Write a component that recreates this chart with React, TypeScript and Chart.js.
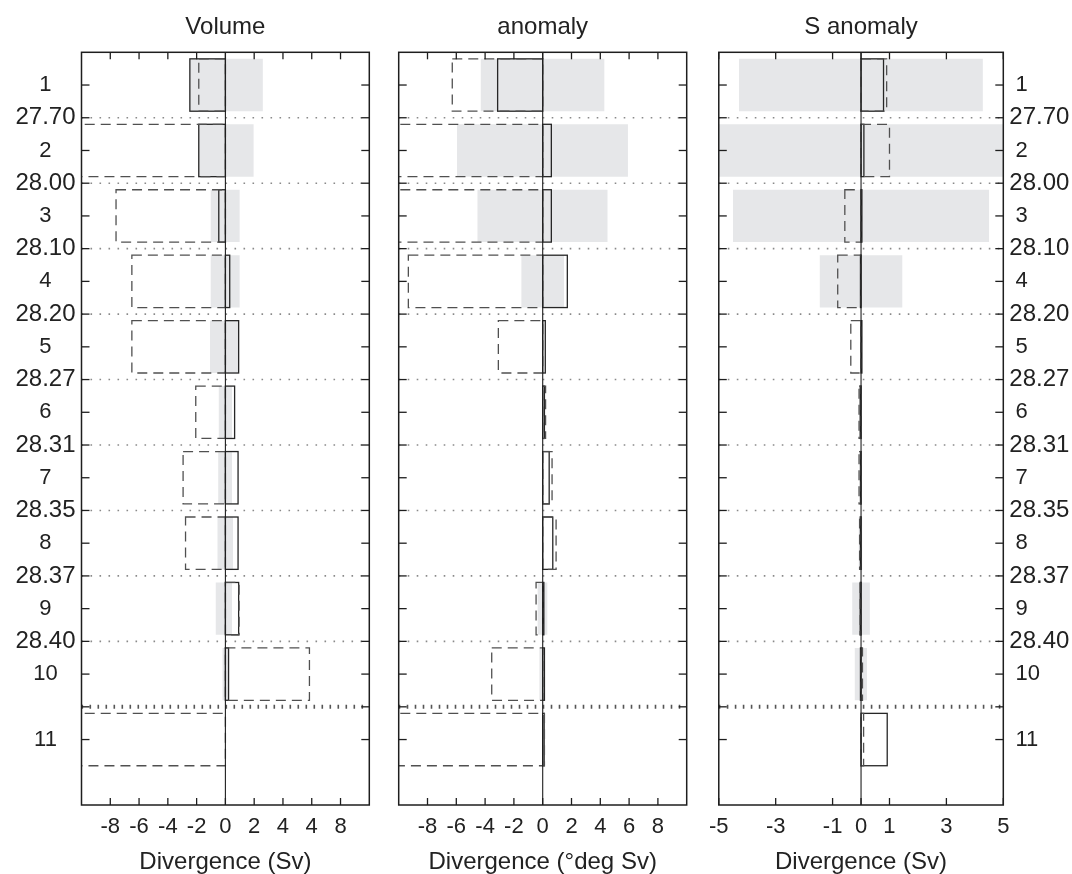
import React, { useEffect, useRef } from 'react';
import { Chart, registerables } from 'chart.js';

Chart.register(...registerables);

const FONT = "'Liberation Sans', Arial, Helvetica, sans-serif";
Chart.defaults.font.family = FONT;
Chart.defaults.color = '#222';

// ---- categories (rows) and density boundaries ----
const rowValues = [1, 2, 3, 4, 5, 6, 7, 8, 9, 10, 11];
const rowLabels = ['1', '2', '3', '4', '5', '6', '7', '8', '9', '10', '11'];
const densityValues = [1.5, 2.5, 3.5, 4.5, 5.5, 6.5, 7.5, 8.5, 9.5];
const densityLabels = ['27.70', '28.00', '28.10', '28.20', '28.27', '28.31', '28.35', '28.37', '28.40'];
const deepBoundary = 10.5;

// ---- x tick values and labels ----
const volumeXTicks = [-8, -6, -4, -2, 0, 2, 4, 6, 8];
const volumeXLabels = ['-8', '-6', '-4', '-2', '0', '2', '4', '4', '8'];
const anomalyXTicks = [-8, -6, -4, -2, 0, 2, 4, 6, 8];
const anomalyXLabels = ['-8', '-6', '-4', '-2', '0', '2', '4', '6', '8'];
const salinityXTicks = [-5, -3, -1, 0, 1, 3, 5];
const salinityXLabels = ['-5', '-3', '-1', '0', '1', '3', '5'];

type Span = [number, number] | null;

// ---- Volume panel (Sv) ----
const volumeRange: Span[] = [
  [-2.47, 2.6], [-1.85, 1.96], [-1.02, 0.99], [-1.02, 0.99], [-1.07, 0.92],
  [-0.46, 0.46], [-0.5, 0.46], [-0.55, 0.53], [-0.67, 0.46], [-0.2, 0.23], null,
];
const volumeSolid: Span[] = [
  [-2.47, 0], [-1.85, 0], [-0.46, 0], [0, 0.3], [0, 0.92],
  [0, 0.64], [0, 0.88], [0, 0.88], [0, 0.92], [0, 0.22], null,
];
const volumeDashed: Span[] = [
  [-1.85, 0], [-12, 0], [-7.6, 0], [-6.5, 0], [-6.5, 0],
  [-2.06, 0], [-2.94, 0], [-2.77, 0], [0, 0.95], [0, 5.84], [-12, 0],
];

// ---- Temperature anomaly panel (deg Sv) ----
const anomalyRange: Span[] = [
  [-4.3, 4.28], [-5.95, 5.92], [-4.53, 4.5], [-1.48, 1.48], null,
  null, null, null, [-0.35, 0.32], [-0.23, 0.05], null,
];
const anomalySolid: Span[] = [
  [-3.13, 0], [0, 0.6], [0, 0.6], [0, 1.71], [0, 0.18],
  [0, 0.12], [0, 0.45], [0, 0.7], [0, 0.08], [0, 0.12], [0, 0.1],
];
const anomalyDashed: Span[] = [
  [-6.28, 0], [-11, 0], [-11, 0], [-9.33, 0], [-3.08, 0],
  [0, 0.2], [0, 0.65], [0, 0.93], [-0.46, 0], [-3.54, 0], [-11, 0.12],
];

// ---- Salinity anomaly panel (Sv) ----
const salinityRange: Span[] = [
  [-4.29, 4.28], [-5.5, 5.5], [-4.5, 4.5], [-1.45, 1.45], null,
  null, null, [-0.08, 0.04], [-0.31, 0.31], [-0.22, 0.21], null,
];
const salinitySolid: Span[] = [
  [0, 0.79], [0, 0.1], [0, 0.03], [-0.02, 0], [0, 0.03],
  [-0.03, 0], [-0.02, 0], [-0.02, 0], [-0.03, 0], [-0.02, 0], [0, 0.92],
];
const salinityDashed: Span[] = [
  [0, 0.9], [0, 1.0], [-0.57, 0], [-0.82, 0], [-0.36, 0],
  [-0.07, 0], [-0.07, 0], [-0.05, 0], [-0.03, 0], [0, 0.05], [0, 0.09],
];

interface PanelSpec {
  title: string;
  xTitle: string;
  xMin: number;
  xMax: number;
  xTicks: number[];
  xLabels: string[];
  range: Span[];
  solid: Span[];
  dashed: Span[];
  left: number;
  width: number;
  padLeft: number;
  padRight: number;
  yAxis: 'left' | 'right' | 'none';
  yWidth: number;
}

const CANVAS_H = 874;
const TOP_H = 52.3;
const BOTTOM_H = 69;

const panels: PanelSpec[] = [
  {
    title: 'Volume', xTitle: 'Divergence (Sv)', xMin: -10, xMax: 10,
    xTicks: volumeXTicks, xLabels: volumeXLabels,
    range: volumeRange, solid: volumeSolid, dashed: volumeDashed,
    left: 0, width: 384, padLeft: 0, padRight: 384 - 369.3, yAxis: 'left', yWidth: 81.5,
  },
  {
    title: 'anomaly', xTitle: 'Divergence (\u00B0deg Sv)', xMin: -10, xMax: 10,
    xTicks: anomalyXTicks, xLabels: anomalyXLabels,
    range: anomalyRange, solid: anomalySolid, dashed: anomalyDashed,
    left: 384, width: 316, padLeft: 398.7 - 384, padRight: 700 - 686.7, yAxis: 'none', yWidth: 0,
  },
  {
    title: 'S anomaly', xTitle: 'Divergence (Sv)', xMin: -5, xMax: 5,
    xTicks: salinityXTicks, xLabels: salinityXLabels,
    range: salinityRange, solid: salinitySolid, dashed: salinityDashed,
    left: 700, width: 372, padLeft: 715.3 - 700, padRight: 0, yAxis: 'right', yWidth: 1072 - 1003.3,
  },
];

function line(ctx: CanvasRenderingContext2D, x1: number, y1: number, x2: number, y2: number) {
  ctx.beginPath();
  ctx.moveTo(x1, y1);
  ctx.lineTo(x2, y2);
  ctx.stroke();
}

function buildChart(canvas: HTMLCanvasElement, spec: PanelSpec) {
  const toPoints = (spans: Span[]) =>
    rowValues.flatMap((r, i) => (spans[i] ? [{ y: r, x: spans[i] as [number, number] }] : []));
  const yTicks = [...rowValues, ...densityValues, deepBoundary].sort((a, b) => a - b);
  const labelFor = (v: number) => {
    const ri = rowValues.indexOf(v);
    if (ri >= 0) return (spec.yAxis === 'right' ? ' ' : '') + rowLabels[ri];
    const di = densityValues.indexOf(v);
    if (di >= 0) return densityLabels[di];
    return '';
  };

  const decor = {
    id: 'decor',
    beforeDatasetsDraw(chart: any) {
      const { ctx, chartArea: a } = chart;
      const y = chart.scales.y;
      ctx.save();
      ctx.lineCap = 'butt';
      ctx.strokeStyle = '#8a8a8a';
      ctx.lineWidth = 1.6;
      ctx.setLineDash([1.6, 7.4]);
      for (const v of densityValues) {
        const py = y.getPixelForValue(v);
        line(ctx, a.left, py, a.right, py);
      }
      ctx.strokeStyle = '#555';
      ctx.lineWidth = 4;
      ctx.setLineDash([1.6, 6.4]);
      const pd = y.getPixelForValue(deepBoundary);
      line(ctx, a.left, pd, a.right, pd);
      ctx.restore();
    },
    afterDatasetDraw(chart: any, args: any) {
      const ds: any = chart.data.datasets[args.index];
      if (!ds.outline) return;
      const { ctx, chartArea: a } = chart;
      ctx.save();
      ctx.beginPath();
      ctx.rect(a.left, a.top, a.right - a.left, a.bottom - a.top);
      ctx.clip();
      ctx.strokeStyle = ds.outline.color;
      ctx.lineWidth = ds.outline.width;
      ctx.setLineDash(ds.outline.dash);
      for (const el of args.meta.data) {
        const p = el.getProps(['x', 'y', 'base', 'height'], true);
        const l = Math.min(p.x, p.base);
        const r = Math.max(p.x, p.base);
        ctx.strokeRect(l, p.y - p.height / 2, r - l, p.height);
      }
      ctx.restore();
    },
    afterDatasetsDraw(chart: any) {
      const { ctx, chartArea: a } = chart;
      const x = chart.scales.x;
      const y = chart.scales.y;
      ctx.save();
      ctx.strokeStyle = '#1e1e1e';
      ctx.lineWidth = 1.1;
      ctx.setLineDash([]);
      const x0 = x.getPixelForValue(0);
      line(ctx, x0, a.top, x0, a.bottom);
      ctx.lineWidth = 1.3;
      for (const t of y.ticks) {
        const py = y.getPixelForValue(t.value);
        line(ctx, a.left, py, a.left + 8, py);
        line(ctx, a.right - 8, py, a.right, py);
      }
      for (const t of x.ticks) {
        const px = x.getPixelForValue(t.value);
        line(ctx, px, a.top, px, a.top + 7);
        line(ctx, px, a.bottom - 7, px, a.bottom);
      }
      ctx.lineWidth = 1.5;
      ctx.strokeRect(a.left, a.top, a.right - a.left, a.bottom - a.top);
      ctx.restore();
    },
  };

  const barCommon = {
    xAxisID: 'x',
    yAxisID: 'y',
    grouped: false,
    categoryPercentage: 1,
    // index ruler is half a row (ticks every 0.5); 1.6 x half-row = 0.8 row
    barPercentage: 1.6,
    borderWidth: 0,
    clip: 0,
  };

  return new Chart(canvas, {
    type: 'bar',
    data: {
      datasets: [
        { ...barCommon, label: 'range', data: toPoints(spec.range), backgroundColor: '#e6e7e9', order: 3 },
        {
          ...barCommon, label: 'solid', data: toPoints(spec.solid), backgroundColor: 'rgba(0,0,0,0)', order: 2,
          outline: { color: '#262626', width: 1.3, dash: [] },
        },
        {
          ...barCommon, label: 'dashed', data: toPoints(spec.dashed), backgroundColor: 'rgba(0,0,0,0)', order: 1,
          outline: { color: '#505050', width: 1.3, dash: [10, 6] },
        },
      ] as any,
    },
    options: {
      indexAxis: 'y',
      responsive: false,
      animation: false,
      devicePixelRatio: 1,
      events: [],
      layout: { padding: { left: spec.padLeft, right: spec.padRight, top: 0, bottom: 0 } },
      plugins: { legend: { display: false }, tooltip: { enabled: false }, title: { display: false } },
      scales: {
        x: {
          type: 'linear',
          position: 'bottom',
          offset: false,
          min: spec.xMin,
          max: spec.xMax,
          afterBuildTicks: (s: any) => { s.ticks = spec.xTicks.map((v) => ({ value: v })); },
          afterFit: (s: any) => { s.height = BOTTOM_H; },
          grid: { display: false, drawTicks: false },
          border: { display: false },
          ticks: {
            autoSkip: false,
            maxRotation: 0,
            padding: 9,
            font: { size: 22 },
            color: '#222',
            callback: (v: any) => spec.xLabels[spec.xTicks.indexOf(Number(v))] ?? '',
          },
          title: {
            display: true,
            text: spec.xTitle,
            font: { size: 24 },
            color: '#222',
            padding: { top: 0, bottom: -3 },
          },
        },
        xTop: {
          type: 'linear',
          position: 'top',
          offset: false,
          min: spec.xMin,
          max: spec.xMax,
          afterFit: (s: any) => { s.height = TOP_H; },
          grid: { display: false, drawTicks: false },
          border: { display: false },
          ticks: { display: false },
          title: {
            display: true,
            text: spec.title,
            font: { size: 24 },
            color: '#222',
            padding: { top: 13, bottom: 0 },
          },
        },
        y: {
          type: 'linear',
          position: spec.yAxis === 'right' ? 'right' : 'left',
          display: spec.yAxis !== 'none',
          offset: false,
          reverse: true,
          min: 0.5,
          max: 12,
          afterBuildTicks: (s: any) => { s.ticks = yTicks.map((v) => ({ value: v })); },
          afterFit: (s: any) => { s.width = spec.yWidth; },
          grid: { display: false, drawTicks: false },
          border: { display: false },
          ticks: {
            autoSkip: false,
            crossAlign: spec.yAxis === 'right' ? 'near' : 'center',
            padding: 6,
            color: '#222',
            font: (c: any) => ({ size: c.tick && rowValues.includes(c.tick.value) ? 22 : 24 }),
            callback: (v: any) => labelFor(Number(v)),
          },
        },
      } as any,
    },
    plugins: [decor],
  });
}

function Panel({ spec }: { spec: PanelSpec }) {
  const ref = useRef<HTMLCanvasElement | null>(null);
  useEffect(() => {
    if (!ref.current) return;
    const chart = buildChart(ref.current, spec);
    return () => chart.destroy();
  }, [spec]);
  return (
    <canvas
      ref={ref}
      width={spec.width}
      height={CANVAS_H}
      style={{ position: 'absolute', left: spec.left, top: 0, width: spec.width, height: CANVAS_H }}
    />
  );
}

export default function App() {
  return (
    <div style={{ position: 'absolute', left: 0, top: 0, width: 1072, height: CANVAS_H, background: '#fff' }}>
      {panels.map((p) => (
        <Panel key={p.title} spec={p} />
      ))}
    </div>
  );
}
